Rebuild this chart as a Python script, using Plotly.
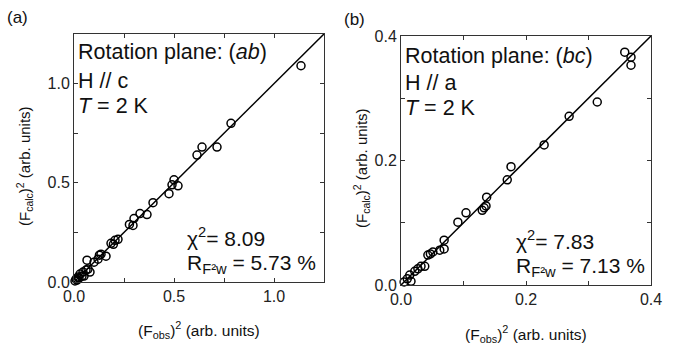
import plotly.graph_objects as go

# Panel (a): Rotation plane (ab), H // c
a_obs = [1.135, 0.785, 0.715, 0.64, 0.615, 0.52, 0.50, 0.49, 0.475, 0.395, 0.365, 0.33, 0.30,
         0.295, 0.277, 0.22, 0.205, 0.197, 0.185, 0.16, 0.135, 0.127, 0.12, 0.10, 0.065, 0.07,
         0.06, 0.08, 0.045, 0.04, 0.03, 0.025, 0.02, 0.015, 0.01, 0.005, 0.05]
a_calc = [1.09, 0.80, 0.68, 0.68, 0.64, 0.485, 0.515, 0.49, 0.445, 0.40, 0.34, 0.345, 0.32,
          0.285, 0.29, 0.215, 0.21, 0.19, 0.195, 0.13, 0.14, 0.135, 0.115, 0.10, 0.11, 0.065,
          0.06, 0.05, 0.05, 0.03, 0.04, 0.02, 0.025, 0.01, 0.015, 0.005, 0.03]
a_line = [0.0, 1.25]

# Panel (b): Rotation plane (bc), H // a
b_obs = [0.358, 0.368, 0.368, 0.314, 0.269, 0.229, 0.176, 0.170, 0.137, 0.136, 0.13, 0.133,
         0.104, 0.091, 0.069, 0.069, 0.062, 0.051, 0.043, 0.047, 0.038, 0.032, 0.027, 0.022,
         0.014, 0.010, 0.016, 0.005]
b_calc = [0.374, 0.366, 0.353, 0.294, 0.271, 0.225, 0.190, 0.169, 0.141, 0.127, 0.120, 0.124,
          0.116, 0.101, 0.072, 0.058, 0.056, 0.053, 0.048, 0.050, 0.030, 0.030, 0.026, 0.022,
          0.016, 0.010, 0.006, 0.005]
b_line = [0.0, 0.4]

a_ticks = [0, 0.25, 0.5, 0.75, 1.0, 1.25]
a_ticktext = ["0.0", "", "0.5", "", "1.0", ""]
b_ticks = [0, 0.1, 0.2, 0.3, 0.4]
b_ticktext = ["0.0", "", "0.2", "", "0.4"]

FONT = "Liberation Sans, Arial, sans-serif"
W, H = 679, 344

fig = go.Figure()
marker = dict(symbol="circle-open", size=8, color="black", line=dict(width=1.5, color="black"))

fig.add_trace(go.Scatter(x=a_line, y=a_line, mode="lines", line=dict(color="black", width=1.5),
                         xaxis="x", yaxis="y", showlegend=False, hoverinfo="skip"))
fig.add_trace(go.Scatter(x=a_obs, y=a_calc, mode="markers", marker=marker, cliponaxis=False,
                         xaxis="x", yaxis="y", showlegend=False))
fig.add_trace(go.Scatter(x=b_line, y=b_line, mode="lines", line=dict(color="black", width=1.5),
                         xaxis="x2", yaxis="y2", showlegend=False, hoverinfo="skip"))
fig.add_trace(go.Scatter(x=b_obs, y=b_calc, mode="markers", marker=marker, cliponaxis=False,
                         xaxis="x2", yaxis="y2", showlegend=False))

def ax(domain, rng, tv, tt, anchor):
    return dict(domain=domain, range=rng, tickmode="array", tickvals=tv, ticktext=tt,
                ticks="inside", ticklen=4, tickwidth=1, tickcolor="#333",
                showline=True, linecolor="#333", linewidth=1, mirror="ticks",
                showgrid=False, zeroline=False, anchor=anchor, automargin=False,
                tickfont=dict(family=FONT, size=16, color="#222"))

def px(x):
    return x / W

def py(y):
    return 1 - y / H

fig.update_layout(
    width=W, height=H, margin=dict(l=0, r=0, t=0, b=0, pad=0, autoexpand=False),
    paper_bgcolor="white", plot_bgcolor="white", showlegend=False,
    xaxis=ax([px(74), px(324)], [0, 1.25], a_ticks, a_ticktext, "y"),
    yaxis=ax([py(282), py(34)], [0, 1.25], a_ticks, a_ticktext, "x"),
    xaxis2=ax([px(401), px(651)], [0, 0.4], b_ticks, b_ticktext, "y2"),
    yaxis2=ax([py(285), py(36)], [0, 0.4], b_ticks, b_ticktext, "x2"),
)

def note(x, y, text, size, xanchor="left", angle=0):
    fig.add_annotation(x=px(x), y=py(y), xref="paper", yref="paper", text=text,
                       showarrow=False, xanchor=xanchor, yanchor="middle", textangle=angle,
                       font=dict(family=FONT, size=size, color="#111"))

# panel labels
note(5, 18, "(a)", 17)
note(342, 20, "(b)", 17)

# panel (a) texts
note(76, 52, "Rotation plane: (<i>ab</i>)", 21.5)
note(76, 81, "H // c", 21.5)
note(76, 106, "<i>T</i> = 2 K", 21.5)
note(185, 237, "χ<sup>2</sup>= 8.09", 21)
note(185, 264, "R<sub>F²w</sub> = 5.73 %", 21)
note(199, 330, "(F<sub>obs</sub>)<sup>2</sup> (arb. units)", 15.5, xanchor="center")
note(24, 166, "(F<sub>calc</sub>)<sup>2</sup> (arb. units)", 15, xanchor="center", angle=-90)

# panel (b) texts
note(403, 56, "Rotation plane: (<i>bc</i>)", 21.5)
note(403, 83, "H // a", 21.5)
note(403, 108, "<i>T</i> = 2 K", 21.5)
note(514, 240, "χ<sup>2</sup>= 7.83", 21)
note(514, 267, "R<sub>F²w</sub> = 7.13 %", 21)
note(526, 334, "(F<sub>obs</sub>)<sup>2</sup> (arb. units)", 15.5, xanchor="center")
note(361, 168, "(F<sub>calc</sub>)<sup>2</sup> (arb. units)", 15, xanchor="center", angle=-90)

fig.write_html("out.html", config={"displayModeBar": False},
               post_script="document.body.style.margin='0';document.body.style.overflow='hidden';")
